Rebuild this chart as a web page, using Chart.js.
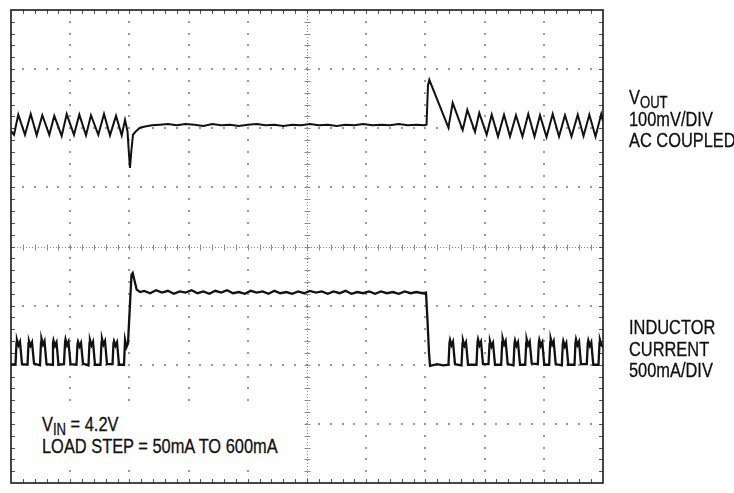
<!DOCTYPE html>
<html>
<head>
<meta charset="utf-8">
<script src="https://cdn.jsdelivr.net/npm/chart.js@4.4.0/dist/chart.umd.min.js"></script>
<style>
    html, body { margin: 0; padding: 0; background: #fff; }
    #wrap { position: relative; width: 734px; height: 493px; overflow: hidden; }
    .lbl {
        position: absolute;
        font-family: "Liberation Sans", Arial, sans-serif;
        font-size: 20px;
        line-height: 21.7px;
        color: #111;
        -webkit-text-stroke: 0.3px #111;
        white-space: nowrap;
        transform: scaleX(0.82);
        transform-origin: 0 0;
    }
    .lbl sub { font-size: 16px; vertical-align: -4px; line-height: 0; }
    #note-bg { position: absolute; left: 22px; top: 405px; width: 276px; height: 64px; background: #fff; }
</style>
</head>
<body>
<div id="wrap">
    <canvas id="scope" width="734" height="493"></canvas>
    <div id="note-bg"></div>
    <div class="lbl" style="left:629px; top:87px;">V<sub>OUT</sub><br>100mV/DIV<br>AC COUPLED</div>
    <div class="lbl" style="left:629px; top:317px;">INDUCTOR<br>CURRENT<br>500mA/DIV</div>
    <div class="lbl" style="left:42px; top:414px;">V<sub>IN</sub> = 4.2V<br>LOAD STEP = 50mA TO 600mA</div>
</div>
<script>
// screen is 10 x 8 divisions, values below are in divisions
const DIV_X = 10;
const DIV_Y = 8;
const MINOR = 5;

// VOUT, 100mV/div, AC coupled
const voutTime = [
    0, 0.051, 0.123, 0.236, 0.333, 0.434, 0.529, 0.647, 0.731, 0.856,
    0.941, 1.064, 1.154, 1.267, 1.351, 1.475, 1.571, 1.672, 1.774, 1.870,
    1.926, 1.968, 1.990, 2.010, 2.035, 2.061, 2.111, 2.179, 2.264, 2.382, 2.517,
    2.65, 2.80, 2.95, 3.10, 3.25, 3.40, 3.55, 3.70, 3.85, 4.00,
    4.15, 4.30, 4.45, 4.60, 4.75, 4.90, 5.05, 5.20, 5.35, 5.50,
    5.65, 5.80, 5.95, 6.10, 6.25, 6.40, 6.55, 6.70, 6.85, 6.98,
    7.019, 7.044, 7.066, 7.389, 7.461, 7.630, 7.708, 7.838, 7.910, 8.035,
    8.120, 8.226, 8.328, 8.429, 8.530, 8.640, 8.738, 8.843, 8.936, 9.046,
    9.150, 9.257, 9.358, 9.468, 9.573, 9.671, 9.769, 9.874, 9.970, 10.0
];
const voutLevel = [
    5.95, 5.89, 6.23, 5.89, 6.24, 5.88, 6.22, 5.89, 6.21, 5.87,
    6.24, 5.89, 6.23, 5.88, 6.22, 5.89, 6.24, 5.88, 6.21, 5.88,
    6.14, 5.95, 5.60, 5.33, 5.64, 5.89, 5.95, 6.01, 6.03, 6.05, 6.06,
    6.07, 6.05, 6.07, 6.06, 6.04, 6.07, 6.05, 6.06, 6.04, 6.06,
    6.07, 6.05, 6.06, 6.04, 6.06, 6.05, 6.07, 6.05, 6.06, 6.04,
    6.06, 6.05, 6.07, 6.05, 6.06, 6.05, 6.07, 6.05, 6.06, 6.05,
    6.06, 6.73, 6.82, 6.01, 6.43, 5.97, 6.31, 5.94, 6.26, 5.89,
    6.23, 5.86, 6.23, 5.86, 6.22, 5.86, 6.24, 5.86, 6.22, 5.85,
    6.24, 5.86, 6.22, 5.86, 6.23, 5.87, 6.23, 5.86, 6.24, 6.12
];

// inductor current, 500mA/div
const ilTime = [
    0,
    0.076, 0.093, 0.101, 0.127, 0.152, 0.186,
    0.279, 0.296, 0.304, 0.329, 0.355, 0.389,
    0.490, 0.507, 0.515, 0.541, 0.566, 0.600,
    0.693, 0.709, 0.718, 0.743, 0.769, 0.802,
    0.895, 0.912, 0.921, 0.946, 0.971, 1.005,
    1.106, 1.123, 1.132, 1.157, 1.182, 1.216,
    1.309, 1.326, 1.334, 1.360, 1.385, 1.419,
    1.512, 1.529, 1.537, 1.563, 1.588, 1.622,
    1.715, 1.731, 1.740, 1.765, 1.791, 1.824,
    1.909, 1.926, 1.951, 1.976, 2.035, 2.056, 2.123, 2.179,
    2.25, 2.35, 2.45, 2.55, 2.65, 2.75, 2.85, 2.95, 3.05, 3.15,
    3.25, 3.35, 3.45, 3.55, 3.65, 3.75, 3.85, 3.95, 4.05, 4.15,
    4.25, 4.35, 4.45, 4.55, 4.65, 4.75, 4.85, 4.95, 5.05, 5.15,
    5.25, 5.35, 5.45, 5.55, 5.65, 5.75, 5.85, 5.95, 6.05, 6.15,
    6.25, 6.35, 6.45, 6.55, 6.65, 6.75, 6.85, 6.95, 7.010,
    7.035, 7.061, 7.078, 7.20, 7.30,
    7.390, 7.407, 7.416, 7.441, 7.466, 7.500,
    7.610, 7.627, 7.635, 7.660, 7.686, 7.720,
    7.863, 7.880, 7.889, 7.914, 7.939, 7.973,
    8.066, 8.083, 8.091, 8.117, 8.142, 8.176,
    8.280, 8.297, 8.306, 8.331, 8.356, 8.390,
    8.488, 8.505, 8.514, 8.539, 8.564, 8.598,
    8.686, 8.703, 8.711, 8.736, 8.762, 8.796,
    8.899, 8.916, 8.924, 8.949, 8.975, 9.008,
    9.091, 9.108, 9.117, 9.142, 9.167, 9.201,
    9.304, 9.321, 9.329, 9.355, 9.380, 9.414,
    9.519, 9.535, 9.544, 9.569, 9.595, 9.628,
    9.726, 9.743, 9.752, 9.777, 9.802, 9.836,
    9.924, 9.941, 9.949, 9.975, 10.0
];
const ilLevel = [
    2.01,
    2.00, 2.37, 2.42, 2.33, 2.39, 2.01,
    2.00, 2.36, 2.40, 2.32, 2.38, 2.02,
    1.99, 2.38, 2.44, 2.34, 2.40, 2.01,
    2.00, 2.36, 2.41, 2.32, 2.38, 2.00,
    2.01, 2.37, 2.43, 2.33, 2.39, 2.01,
    2.00, 2.35, 2.39, 2.31, 2.37, 2.02,
    1.99, 2.37, 2.42, 2.33, 2.39, 2.00,
    2.00, 2.38, 2.44, 2.34, 2.40, 2.01,
    2.01, 2.36, 2.40, 2.32, 2.38, 2.00,
    2.00, 2.42, 2.30, 2.36, 3.52, 3.55, 3.27, 3.23,
    3.25, 3.21, 3.26, 3.22, 3.25, 3.20, 3.24, 3.22, 3.26, 3.21,
    3.24, 3.20, 3.25, 3.22, 3.26, 3.21, 3.23, 3.20, 3.25, 3.22,
    3.24, 3.20, 3.25, 3.21, 3.23, 3.20, 3.24, 3.21, 3.25, 3.22,
    3.24, 3.20, 3.24, 3.21, 3.25, 3.20, 3.23, 3.21, 3.24, 3.20,
    3.24, 3.21, 3.23, 3.20, 3.24, 3.21, 3.23, 3.21, 3.22,
    2.76, 2.20, 1.98, 2.01, 1.99,
    2.00, 2.37, 2.42, 2.33, 2.39, 2.01,
    1.99, 2.36, 2.41, 2.32, 2.38, 2.00,
    2.00, 2.38, 2.43, 2.33, 2.39, 2.01,
    2.01, 2.35, 2.40, 2.31, 2.37, 2.00,
    2.00, 2.38, 2.44, 2.34, 2.40, 2.01,
    1.99, 2.36, 2.41, 2.32, 2.38, 2.00,
    2.00, 2.37, 2.43, 2.33, 2.39, 2.02,
    2.01, 2.37, 2.42, 2.32, 2.38, 2.00,
    2.00, 2.38, 2.44, 2.34, 2.40, 2.01,
    1.99, 2.35, 2.40, 2.31, 2.37, 2.00,
    2.00, 2.37, 2.43, 2.33, 2.39, 2.01,
    2.01, 2.36, 2.41, 2.32, 2.38, 2.00,
    2.00, 2.37, 2.42, 2.33, 2.30
];

function toPoints(times, levels) {
    return times.map((t, i) => ({ x: t, y: levels[i] }));
}

// scope graticule: dotted divisions, ticked centre lines, ticked frame
const graticule = {
    id: "graticule",
    beforeDatasetsDraw(chart) {
        const { ctx, scales: { x, y } } = chart;
        const left = x.getPixelForValue(0), right = x.getPixelForValue(DIV_X);
        const top = y.getPixelForValue(DIV_Y), bottom = y.getPixelForValue(0);
        const step = 1 / MINOR;
        ctx.save();

        ctx.fillStyle = "#9a9a9a";
        for (let i = 1; i < DIV_X; i++) {
            if (i === DIV_X / 2) continue;
            const px = Math.round(x.getPixelForValue(i));
            for (let m = 1; m < DIV_Y * MINOR; m++) {
                const py = Math.round(y.getPixelForValue(m * step));
                ctx.fillRect(px - 1, py - 1, 2, 2);
            }
        }
        for (let j = 1; j < DIV_Y; j++) {
            if (j === DIV_Y / 2) continue;
            const py = Math.round(y.getPixelForValue(j));
            for (let m = 1; m < DIV_X * MINOR; m++) {
                const px = Math.round(x.getPixelForValue(m * step));
                ctx.fillRect(px - 1, py - 1, 2, 2);
            }
        }

        // centre lines
        const cx = Math.round(x.getPixelForValue(DIV_X / 2)) + 0.5;
        const cy = Math.round(y.getPixelForValue(DIV_Y / 2)) + 0.5;
        ctx.strokeStyle = "#8a8a8a";
        ctx.lineWidth = 1;
        ctx.setLineDash([1, 2]);
        ctx.beginPath();
        ctx.moveTo(cx, top); ctx.lineTo(cx, bottom);
        ctx.moveTo(left, cy); ctx.lineTo(right, cy);
        ctx.stroke();
        ctx.setLineDash([]);
        ctx.beginPath();
        for (let m = 1; m < DIV_X * MINOR; m++) {
            const px = Math.round(x.getPixelForValue(m * step)) + 0.5;
            ctx.moveTo(px, cy - 3); ctx.lineTo(px, cy + 3);
        }
        for (let m = 1; m < DIV_Y * MINOR; m++) {
            const py = Math.round(y.getPixelForValue(m * step)) + 0.5;
            ctx.moveTo(cx - 3, py); ctx.lineTo(cx + 3, py);
        }
        ctx.stroke();

        // frame with inner ticks
        ctx.strokeStyle = "#555";
        ctx.beginPath();
        for (let m = 1; m < DIV_X * MINOR; m++) {
            const px = Math.round(x.getPixelForValue(m * step)) + 0.5;
            ctx.moveTo(px, top); ctx.lineTo(px, top + 4);
            ctx.moveTo(px, bottom); ctx.lineTo(px, bottom - 4);
        }
        for (let m = 1; m < DIV_Y * MINOR; m++) {
            const py = Math.round(y.getPixelForValue(m * step)) + 0.5;
            ctx.moveTo(left, py); ctx.lineTo(left + 4, py);
            ctx.moveTo(right, py); ctx.lineTo(right - 4, py);
        }
        ctx.stroke();
        ctx.strokeStyle = "#1a1a1a";
        ctx.lineWidth = 1.6;
        ctx.strokeRect(left, top, right - left, bottom - top);
        ctx.restore();
    }
};

const ctx = document.getElementById("scope").getContext("2d");
new Chart(ctx, {
    type: "line",
    data: {
        datasets: [{
            label: "VOUT",
            data: toPoints(voutTime, voutLevel),
            borderColor: "#111",
            borderWidth: 2,
            pointRadius: 0,
            tension: 0
        }, {
            label: "Inductor current",
            data: toPoints(ilTime, ilLevel),
            borderColor: "#111",
            borderWidth: 2.3,
            pointRadius: 0,
            tension: 0
        }]
    },
    options: {
        responsive: false,
        animation: false,
        layout: { padding: { left: 11, top: 10, right: 131, bottom: 10 } },
        plugins: { legend: { display: false }, tooltip: { enabled: false } },
        scales: {
            x: { type: "linear", min: 0, max: DIV_X, display: false },
            y: { min: 0, max: DIV_Y, display: false }
        }
    },
    plugins: [graticule]
});
</script>
</body>
</html>
